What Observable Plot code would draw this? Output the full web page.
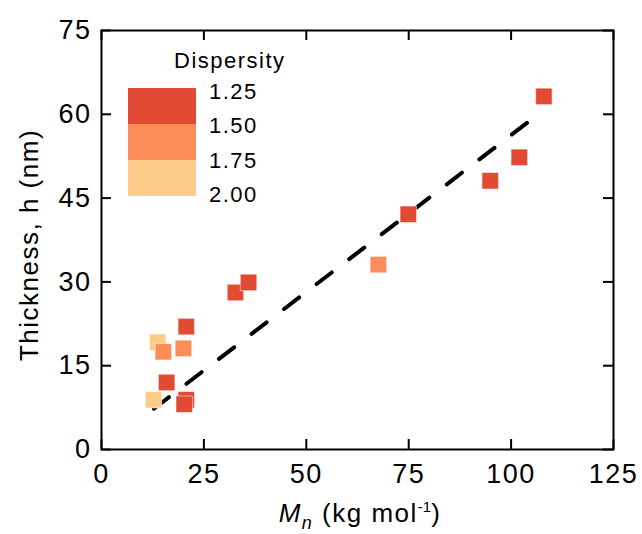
<!DOCTYPE html>
<html>
<head>
<meta charset="utf-8">
<script src="https://cdn.jsdelivr.net/npm/d3@7"></script>
<script src="https://cdn.jsdelivr.net/npm/@observablehq/plot@0.6"></script>
<style>
  html, body { margin: 0; padding: 0; background: #fff; }
  #chart { width: 642px; height: 534px; }
  #chart svg text { letter-spacing: 1.5px; }
</style>
</head>
<body>
<div id="chart"></div>
<script>
// ---- data ----
const mn         = [13.7, 12.7, 67.6, 15.1, 20.0, 20.7, 15.9, 20.7, 20.2, 32.7, 35.9, 74.9, 94.9, 102.0, 108.0];
const thickness  = [19.2,  8.9, 33.1, 17.5, 18.1, 22.0, 12.0,  8.9,  8.1, 28.1, 29.9, 42.1, 48.1,  52.3,  63.2];
const dispersity = [1.9,   1.9,  1.6,  1.6,  1.6,  1.3,  1.3,  1.3,  1.3,  1.3,  1.3,  1.3,  1.3,   1.3,   1.3];
const fitX = [12.8, 105.9];
const fitY = [7.3, 59.6];
const xTicks = [0, 25, 50, 75, 100, 125];
const yTicks = [0, 15, 30, 45, 60, 75];
const legendThresholds = [1.5, 1.75];
const legendTicks = [1.25, 1.5, 1.75, 2.0];
const legendColors = ["#e34a33", "#fc8d59", "#fdcc8a"];

const points = mn.map((x, i) => ({x, y: thickness[i], d: dispersity[i]}));
const fit = fitX.map((x, i) => ({x, y: fitY[i]}));

const W = 642, H = 534;
const mL = 101, mR = 29, mT = 30, mB = 85;
const plotW = W - mL - mR, plotH = H - mT - mB;
const tick = 10;
const font = "'Liberation Sans', Arial, Helvetica, sans-serif";

const plot = Plot.plot({
  width: W, height: H,
  marginLeft: mL, marginRight: mR, marginTop: mT, marginBottom: mB,
  style: {fontFamily: font, fontSize: "27px", background: "#fff", color: "#000"},
  x: {domain: [0, 125]},
  y: {domain: [0, 75]},
  color: {type: "threshold", domain: legendThresholds, range: legendColors},
  marks: [
    Plot.axisX({ticks: xTicks, tickSize: 0, tickPadding: 14, fontSize: 27, label: null}),
    Plot.axisY({ticks: yTicks, tickSize: 0, tickPadding: 10, fontSize: 27, label: null}),
    Plot.ruleX(xTicks, {x: d => d, insetTop: plotH - tick, stroke: "#000", strokeWidth: 2}),
    Plot.ruleX(xTicks, {x: d => d, insetBottom: plotH - tick, stroke: "#000", strokeWidth: 2}),
    Plot.ruleY(yTicks, {y: d => d, insetRight: plotW - tick, stroke: "#000", strokeWidth: 2}),
    Plot.ruleY(yTicks, {y: d => d, insetLeft: plotW - tick, stroke: "#000", strokeWidth: 2}),
    Plot.line(fit, {x: "x", y: "y", stroke: "#000", strokeWidth: 4, strokeDasharray: "19,22", strokeLinecap: "round"}),
    Plot.dot(points, {x: "x", y: "y", fill: "d", symbol: "square", r: 9.3, stroke: "#fff", strokeOpacity: 0.5, strokeWidth: 1}),
    Plot.frame({stroke: "#000", strokeWidth: 2})
  ]
});

const svg = d3.select(plot);

// y axis label
svg.append("text")
  .attr("transform", "translate(38,245) rotate(-90)")
  .attr("text-anchor", "middle")
  .attr("font-size", 26)
  .attr("fill", "#000")
  .text("Thickness, h (nm)");

// x axis label
const xl = svg.append("text")
  .attr("x", 360).attr("y", 522)
  .attr("text-anchor", "middle")
  .attr("font-size", 26)
  .attr("fill", "#000");
xl.append("tspan").attr("font-style", "italic").text("M");
xl.append("tspan").attr("font-size", 18).attr("font-style", "italic").attr("dy", 7).text("n");
xl.append("tspan").attr("dy", -7).text(" (kg mol");
xl.append("tspan").attr("font-size", 15).attr("dy", -10).style("letter-spacing", "0px").text("-1");
xl.append("tspan").attr("dy", 10).text(")");

// legend
const color = plot.scale("color");
const ly = d3.scaleLinear([1.25, 2.0], [88, 196]);
const lt = d3.scaleLinear([1.25, 2.0], [91, 194]);
const lg = svg.append("g").attr("font-family", font).attr("text-anchor", "start");
const bounds = [1.25, ...color.domain, 2.0];
for (let i = 0; i < color.range.length; i++) {
  lg.append("rect")
    .attr("x", 128).attr("width", 68)
    .attr("y", ly(bounds[i])).attr("height", ly(bounds[i + 1]) - ly(bounds[i]))
    .attr("fill", color.range[i]);
}
lg.selectAll("text.tl").data(legendTicks).join("text")
  .attr("class", "tl")
  .attr("x", 209).attr("y", d => lt(d))
  .attr("dy", "0.36em")
  .attr("text-anchor", "start")
  .attr("font-size", 22)
  .attr("fill", "#000")
  .text(d => d.toFixed(2));
lg.append("text")
  .attr("x", 174).attr("y", 68)
  .attr("text-anchor", "start")
  .attr("font-size", 22)
  .attr("fill", "#000")
  .text("Dispersity");

document.getElementById("chart").appendChild(plot);
</script>
</body>
</html>
